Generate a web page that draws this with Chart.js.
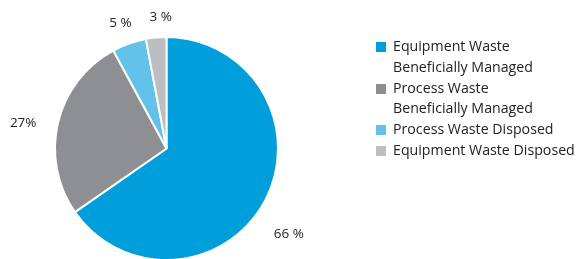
<!DOCTYPE html>
<html><head><meta charset="utf-8">
<script src="https://cdn.jsdelivr.net/npm/chart.js@4"></script>
<style>
html,body{margin:0;padding:0;width:577px;height:259px;overflow:hidden;background:#fff;}
#wrap{position:absolute;left:0;top:0;width:577px;height:262px;}
#legend{position:absolute;left:376px;top:36px;width:201px;white-space:nowrap;font-family:"Open Sans",sans-serif;font-size:14.2px;color:#222;}
.item{position:relative;padding-left:17px;line-height:20.8px;}
.box{position:absolute;left:0;top:6px;width:10px;height:10px;}
</style></head>
<body>
<div id="wrap"><canvas id="c"></canvas></div>
<div id="legend"></div>
<script>
const categories = [["Equipment Waste","Beneficially Managed"],["Process Waste","Beneficially Managed"],["Process Waste Disposed"],["Equipment Waste Disposed"]];
const values = [66, 27, 5, 3];
const valueLabels = ["66 %", "27%", "5 %", "3 %"];
const colors = ["#009fdc", "#8e8f93", "#63c2ea", "#bcbec2"];

const lg = document.getElementById('legend');
categories.forEach((lines, i) => {
  const d = document.createElement('div'); d.className = 'item';
  const b = document.createElement('span'); b.className = 'box'; b.style.background = colors[i];
  d.appendChild(b);
  lines.forEach((t, j) => { const s = document.createElement('div'); s.textContent = t; d.appendChild(s); });
  lg.appendChild(d);
});

const labelPlugin = {
  id: 'outLabels',
  afterDatasetsDraw(chart, args, opts) {
    const ctx = chart.ctx;
    const meta = chart.getDatasetMeta(0);
    ctx.save();
    ctx.font = '13.5px "Open Sans", sans-serif';
    ctx.fillStyle = '#222';
    ctx.textAlign = 'center';
    ctx.textBaseline = 'middle';
    meta.data.forEach((arc, i) => {
      const p = arc.getProps(['x','y','startAngle','endAngle','outerRadius'], true);
      const a = (p.startAngle + p.endAngle) / 2 + opts.angleNudge[i];
      const r = p.outerRadius + opts.dist[i];
      ctx.fillText(valueLabels[i], p.x + Math.cos(a) * r, p.y + Math.sin(a) * r);
    });
    ctx.restore();
  }
};

new Chart(document.getElementById('c'), {
  type: 'pie',
  data: {
    labels: categories,
    datasets: [{ data: values, backgroundColor: colors, borderColor: '#fff', borderWidth: 2 }]
  },
  options: {
    responsive: true, maintainAspectRatio: false, animation: false,
    layout: { padding: { left: 54, right: 298, top: 36, bottom: 1 } },
    plugins: {
      legend: { display: false }, tooltip: { enabled: false },
      outLabels: { dist: [38, 34, 22, 20], angleNudge: [0.13, -0.06, -0.01, 0.05] }
    }
  },
  plugins: [labelPlugin]
});
</script>
</body></html>
